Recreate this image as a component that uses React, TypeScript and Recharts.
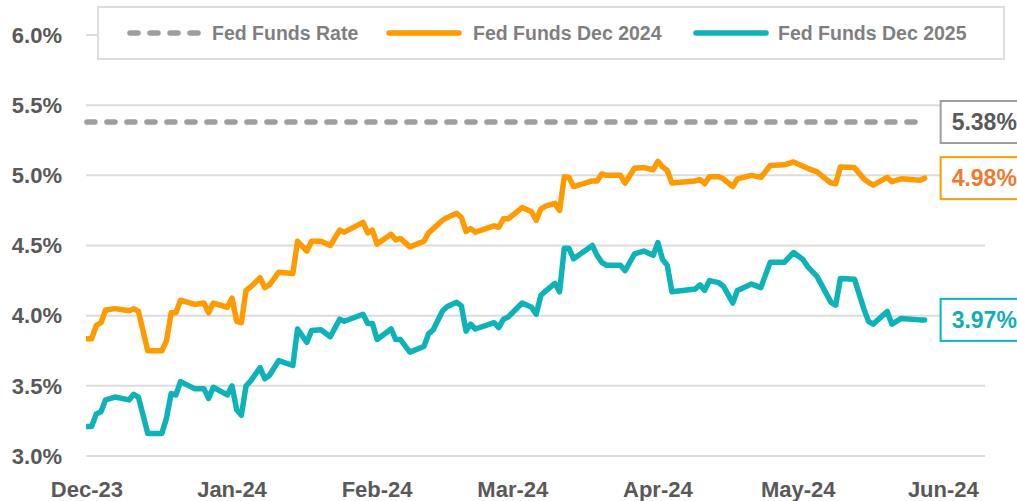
import React from "react";
import {
  LineChart,
  Line,
  XAxis,
  YAxis,
  CartesianGrid,
  ReferenceLine,
  ReferenceDot,
} from "recharts";

// Days since 1 Dec 2023
const days = [
  0, 1, 2, 3, 4, 6, 9, 10, 11, 12,
  13, 16, 17, 18, 19, 20, 23, 25, 26, 27,
  30, 31, 32, 33, 34, 35, 37, 38, 39, 41,
  44, 45, 47, 48, 50, 52, 54, 55, 59, 60,
  61, 62, 65, 66, 67, 69, 72, 73, 74, 76,
  77, 79, 80, 81, 82, 83, 87, 88, 89, 90,
  93, 95, 96, 97, 98, 100, 101, 102, 103, 104,
  108, 109, 110, 111, 114, 115, 117, 119, 121, 122,
  123, 124, 125, 130, 131, 132, 133, 135, 136, 138,
  139, 142, 144, 146, 149, 151, 153, 154, 156, 159,
  160, 161, 164, 166, 167, 168, 171, 172, 174, 178,
  179,
];

const fedFundsDec2024 = [
  3.835, 3.835, 3.93, 3.95, 4.04, 4.05, 4.035, 4.05, 4.03, 3.89,
  3.75, 3.75, 3.82, 4.02, 4.02, 4.11, 4.08, 4.09, 4.02, 4.09,
  4.06, 4.125, 3.96, 3.95, 4.18, 4.205, 4.27, 4.2, 4.22, 4.31,
  4.3, 4.53, 4.46, 4.53, 4.53, 4.5, 4.61, 4.595, 4.665, 4.59,
  4.61, 4.51, 4.58, 4.54, 4.55, 4.49, 4.53, 4.59, 4.62, 4.68,
  4.7, 4.73, 4.7, 4.6, 4.62, 4.595, 4.64, 4.63, 4.69, 4.69,
  4.77, 4.74, 4.68, 4.76, 4.78, 4.8, 4.75, 4.99, 4.985, 4.92,
  4.96, 4.96, 5.01, 5.0, 5.0, 4.945, 5.05, 5.055, 5.04, 5.1,
  5.06, 5.035, 4.945, 4.96, 4.97, 4.94, 4.99, 4.99, 4.975, 4.92,
  4.975, 5.0, 4.985, 5.07, 5.075, 5.095, 5.065, 5.05, 5.025, 4.945,
  4.94, 5.06, 5.055, 4.975, 4.95, 4.93, 4.985, 4.955, 4.975, 4.965,
  4.98,
];

const fedFundsDec2025 = [
  3.21, 3.21, 3.3, 3.315, 3.4, 3.42, 3.4, 3.44, 3.42, 3.29,
  3.16, 3.16, 3.27, 3.445, 3.435, 3.53, 3.48, 3.48, 3.41, 3.49,
  3.435, 3.5, 3.33, 3.29, 3.5, 3.535, 3.63, 3.55, 3.575, 3.68,
  3.645, 3.905, 3.81, 3.895, 3.9, 3.85, 3.975, 3.96, 4.01, 3.945,
  3.945, 3.83, 3.905, 3.83, 3.83, 3.74, 3.78, 3.87, 3.9, 4.035,
  4.065, 4.095, 4.07, 3.89, 3.94, 3.905, 3.95, 3.915, 3.975, 3.99,
  4.09, 4.06, 4.01, 4.145, 4.175, 4.23, 4.17, 4.48, 4.48, 4.405,
  4.5, 4.43, 4.38, 4.36, 4.36, 4.32, 4.44, 4.46, 4.43, 4.52,
  4.4, 4.36, 4.17, 4.19, 4.22, 4.18, 4.25, 4.235, 4.21, 4.09,
  4.18, 4.225, 4.2, 4.38, 4.38, 4.45, 4.4, 4.35, 4.28, 4.095,
  4.075, 4.265, 4.26, 4.05, 3.96, 3.94, 4.03, 3.94, 3.98, 3.97,
  3.97,
];

const fedFundsRate = 5.38;

const monthTicks = [0, 31, 62, 91, 122, 152, 183];
const monthLabels = ["Dec-23", "Jan-24", "Feb-24", "Mar-24", "Apr-24", "May-24", "Jun-24"];
const yTicks = [3.0, 3.5, 4.0, 4.5, 5.0, 5.5, 6.0];

const seriesNames = ["Fed Funds Rate", "Fed Funds Dec 2024", "Fed Funds Dec 2025"];

const COLORS = {
  rate: "#9E9E9E",
  dec24: "#FF9A00",
  dec25: "#0DB3B8",
  dec24Text: "#EE7A30",
  dec25Text: "#13ADB5",
  rateText: "#595959",
  grid: "#DCDCDC",
  axisText: "#595959",
  legendText: "#7F7F7F",
};

const FONT = "'Liberation Sans', Arial, sans-serif";
const LINE_W = 5.5;

const rows = days.map((d, i) => ({
  day: d,
  dec24: fedFundsDec2024[i],
  dec25: fedFundsDec2025[i],
}));

const lastDay = days[days.length - 1];
const lastDec24 = fedFundsDec2024[fedFundsDec2024.length - 1];
const lastDec25 = fedFundsDec2025[fedFundsDec2025.length - 1];

function endBox(text: string, border: string, color: string) {
  return (props: any) => {
    const { cx, cy } = props;
    const x = cx + 16;
    return (
      <g>
        <rect x={x} y={cy - 21} width={90} height={42} fill="#fff" stroke={border} strokeWidth={2} />
        <text
          x={x + 11}
          y={cy}
          dy="0.36em"
          fontFamily={FONT}
          fontWeight={700}
          fontSize={23}
          fill={color}
        >
          {text}
        </text>
      </g>
    );
  };
}

function LegendBox() {
  const items = [
    { name: seriesNames[0], color: COLORS.rate, dashed: true, iconX: 28, textX: 113 },
    { name: seriesNames[1], color: COLORS.dec24, dashed: false, iconX: 287, textX: 374 },
    { name: seriesNames[2], color: COLORS.dec25, dashed: false, iconX: 594, textX: 679 },
  ];
  return (
    <div
      style={{
        position: "absolute",
        left: 97,
        top: 6,
        width: 908,
        height: 54,
        boxSizing: "border-box",
        border: `2px solid ${COLORS.grid}`,
        background: "#fff",
      }}
    >
      <svg width={904} height={50} style={{ position: "absolute", left: 0, top: 0 }}>
        {items.map((it) => (
          <g key={it.name}>
            <line
              x1={it.iconX + 3}
              x2={it.iconX + 73}
              y1={25}
              y2={25}
              stroke={it.color}
              strokeWidth={LINE_W}
              strokeLinecap="round"
              strokeDasharray={it.dashed ? "8 12" : undefined}
            />
            <text
              x={it.textX}
              y={25}
              dy="0.36em"
              fontFamily={FONT}
              fontWeight={700}
              fontSize={19.5}
              fill={COLORS.legendText}
            >
              {it.name}
            </text>
          </g>
        ))}
      </svg>
    </div>
  );
}

export default function App() {
  return (
    <div style={{ position: "relative", width: 1017, height: 501, background: "#fff" }}>
      <style>{"body{margin:0;}"}</style>
      <LineChart
        width={1017}
        height={501}
        data={rows}
        margin={{ top: 35, right: 32, bottom: 0, left: 0 }}
      >
        <CartesianGrid horizontal vertical={false} stroke={COLORS.grid} strokeWidth={2} />
        <XAxis
          dataKey="day"
          type="number"
          domain={[-0.2, 191.9]}
          allowDataOverflow
          ticks={monthTicks}
          interval={0}
          tickFormatter={(v: number) => monthLabels[monthTicks.indexOf(v)] ?? ""}
          axisLine={false}
          tickLine={false}
          tickSize={0}
          tickMargin={25}
          height={45}
          tick={{ fontFamily: FONT, fontWeight: 700, fontSize: 22, fill: COLORS.axisText }}
        />
        <YAxis
          type="number"
          domain={[3, 6]}
          ticks={yTicks}
          interval={0}
          tickFormatter={(v: number) => v.toFixed(1) + "%"}
          axisLine={false}
          tickLine={false}
          tickSize={0}
          tickMargin={24}
          width={86}
          tick={{ fontFamily: FONT, fontWeight: 700, fontSize: 22, fill: COLORS.axisText }}
        />
        <ReferenceLine
          segment={[
            { x: days[0], y: fedFundsRate },
            { x: lastDay, y: fedFundsRate },
          ]}
          stroke={COLORS.rate}
          strokeWidth={LINE_W}
          strokeDasharray="8 12"
          strokeLinecap="round"
        />
        <Line
          type="linear"
          dataKey="dec24"
          name={seriesNames[1]}
          stroke={COLORS.dec24}
          strokeWidth={LINE_W}
          strokeLinejoin="round"
          strokeLinecap="round"
          dot={false}
          activeDot={false}
          isAnimationActive={false}
        />
        <Line
          type="linear"
          dataKey="dec25"
          name={seriesNames[2]}
          stroke={COLORS.dec25}
          strokeWidth={LINE_W}
          strokeLinejoin="round"
          strokeLinecap="round"
          dot={false}
          activeDot={false}
          isAnimationActive={false}
        />
        <ReferenceDot
          x={lastDay}
          y={fedFundsRate}
          shape={endBox(fedFundsRate.toFixed(2) + "%", COLORS.rate, COLORS.rateText)}
        />
        <ReferenceDot
          x={lastDay}
          y={lastDec24}
          shape={endBox(lastDec24.toFixed(2) + "%", COLORS.dec24, COLORS.dec24Text)}
        />
        <ReferenceDot
          x={lastDay}
          y={lastDec25}
          shape={endBox(lastDec25.toFixed(2) + "%", COLORS.dec25, COLORS.dec25Text)}
        />
      </LineChart>
      <LegendBox />
    </div>
  );
}
